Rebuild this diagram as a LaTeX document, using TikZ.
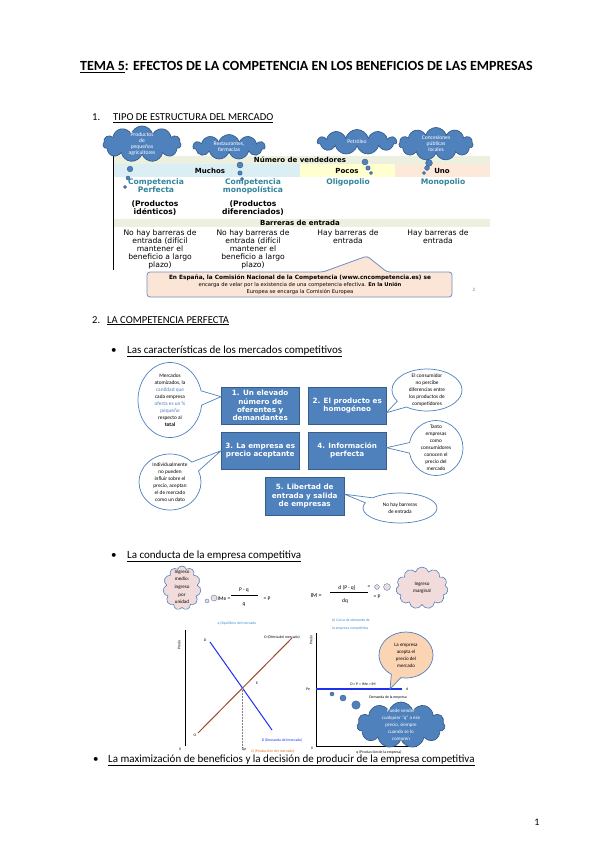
\documentclass[tikz,border=0pt]{standalone}
\usepackage{fontspec}
\setmainfont{Carlito}
\newfontfamily\vfont{DejaVu Sans}
\usetikzlibrary{shapes.symbols,shapes.callouts,shapes.geometric}
\newcommand{\myfs}[2]{\fontsize{#1}{#2}\selectfont}
\definecolor{boxblue}{HTML}{4F81BD}
\definecolor{boxedge}{HTML}{385D8A}
\definecolor{bandgreen}{HTML}{EBF1DE}
\definecolor{rowblue}{HTML}{DAEEF3}
\definecolor{rowyellow}{HTML}{FFFFD0}
\definecolor{rowpeach}{HTML}{FDE9D9}
\definecolor{labelteal}{HTML}{31859C}
\definecolor{calloutfill}{HTML}{FBE5D6}
\definecolor{calloutedge}{HTML}{6F8FC0}
\definecolor{pinkfill}{HTML}{F2DCDB}
\definecolor{peachbub}{HTML}{FBD4B4}
\definecolor{supplybrown}{HTML}{9C4A2F}
\definecolor{demandblue}{HTML}{2030F0}
\definecolor{captionblue}{HTML}{3F8FD0}
\definecolor{qorange}{HTML}{E07020}
\tikzset{
  plain/.style={inner sep=0pt},
  bluebox/.style={draw=boxedge, fill=boxblue, text=white, font=\vfont\bfseries\myfs{7.2}{8.3}, align=center, minimum width=78pt, minimum height=37pt, inner sep=1pt, anchor=north west},
  bluecloud/.style={cloud, cloud puffs=11, cloud ignores aspect, draw=boxedge, fill=boxblue, line width=0.7pt, inner sep=0pt},
  pinkcloud/.style={cloud, cloud puffs=11, cloud ignores aspect, draw=boxblue, fill=pinkfill, line width=0.6pt, inner sep=0pt},
  cloudtext/.style={text=white, font=\myfs{5.6}{6}, align=center, inner sep=0pt},
  bubble/.style={ellipse callout, draw=boxblue, fill=white, line width=0.7pt, inner sep=0pt, callout pointer arc=22},
  bubtext/.style={font=\myfs{5.3}{7}, align=center, inner sep=0pt},
  tdot/.style={fill=boxblue, draw=boxedge, line width=0.4pt},
  tabtxt/.style={font=\vfont\myfs{7.6}{8}, align=center, inner sep=0pt},
  tabhead/.style={font=\vfont\bfseries\myfs{7}{8}, inner sep=0pt},
  tablab/.style={font=\vfont\bfseries\myfs{7.6}{8}, text=labelteal, align=center, inner sep=0pt},
  tiny/.style={font=\myfs{3.8}{4.5}, inner sep=0pt},
  headtxt/.style={font=\myfs{10.6}{13}, anchor=base west, inner sep=0pt},
  subtxt/.style={font=\myfs{11}{13}, anchor=base west, inner sep=0pt}
}
\begin{document}
\begin{tikzpicture}[x=1pt,y=-1pt]
\useasboundingbox (0,0) rectangle (599,848);
\fill[white] (0,0) rectangle (599,848);

% ---------- Title ----------
\node[anchor=base west, font=\bfseries\myfs{14}{16}, inner sep=0pt] (title) at (80,71)
  {\underline{TEMA 5}: EFECTOS DE LA COMPETENCIA EN LOS BENEFICIOS DE LAS EMPRESAS};

% ---------- Section 1 ----------
\node[headtxt] (h1n) at (92,121) {1.};
\node[headtxt] (h1) at (113,121) {\underline{TIPO DE ESTRUCTURA DEL MERCADO}};

\fill[bandgreen] (113,156) rectangle (490,164);
\fill[rowblue] (113,164) rectangle (300,177);
\fill[rowyellow] (300,164) rectangle (395,177);
\fill[rowpeach] (395,164) rectangle (490,177);
\fill[bandgreen] (113,219) rectangle (490,227);
\draw[line width=0.8pt] (113,156) -- (113,270);

% clouds
\node[bluecloud, minimum width=78pt, minimum height=36pt] (c1) at (142,144) {};
\node[cloudtext] (c1t) at (142,144) {Productos\\de\\pequeños\\agricultores};
\node[bluecloud, minimum width=72pt, minimum height=25pt] (c2) at (229,147) {};
\node[cloudtext] (c2t) at (229,147) {Restaurantes,\\farmacias};
\node[bluecloud, minimum width=79pt, minimum height=25pt] (c3) at (357,142) {};
\node[cloudtext] (c3t) at (357,142) {Petróleo};
\node[bluecloud, minimum width=74pt, minimum height=33pt] (c4) at (436,144) {};
\node[cloudtext] (c4t) at (436,144) {Concesiones\\públicas\\locales};

\node[tabhead] (nv) at (300,160) {Número de vendedores};
\node[tabhead] (muchos) at (210,171) {Muchos};
\node[tabhead] (pocos) at (347,171) {Pocos};
\node[tabhead] (uno) at (442,171) {Uno};

% thought dots
\filldraw[tdot] (130,169) circle (2.8);
\filldraw[tdot] (128,178) circle (2);
\filldraw[tdot] (125,187) circle (1.5);
\filldraw[tdot] (240,165) circle (3);
\filldraw[tdot] (240,173) circle (2.2);
\filldraw[tdot] (242,179) circle (1.5);
\filldraw[tdot] (365,162) circle (3);
\filldraw[tdot] (368,168) circle (2.2);
\filldraw[tdot] (371,173) circle (1.6);
\filldraw[tdot] (429,163) circle (3.4);
\filldraw[tdot] (427,168) circle (2.4);
\filldraw[tdot] (424,173) circle (1.7);

\node[tablab] (cp) at (156,186) {Competencia\\Perfecta};
\node[tablab] (cm) at (253,186) {Competencia\\monopolística};
\node[tablab] (ol) at (348,182) {Oligopolio};
\node[tablab] (mo) at (443,182) {Monopolio};
\node[tabtxt, font=\vfont\bfseries\myfs{7.6}{8}] (pi) at (155,208) {(Productos\\idénticos)};
\node[tabtxt, font=\vfont\bfseries\myfs{7.6}{8}] (pd) at (253,208) {(Productos\\diferenciados)};

\node[tabhead] (be) at (300,223) {Barreras de entrada};
\node[tabtxt] (nb1) at (160,249) {No hay barreras de\\entrada (difícil\\mantener el\\beneficio a largo\\plazo)};
\node[tabtxt] (nb2) at (253,249) {No hay barreras de\\entrada (difícil\\mantener el\\beneficio a largo\\plazo)};
\node[tabtxt] (hb1) at (348,237) {Hay barreras de\\entrada};
\node[tabtxt] (hb2) at (438,237) {Hay barreras de\\entrada};

% callout
\coordinate (calltip) at (367,256);
\draw[draw=calloutedge, fill=calloutfill, line width=0.8pt, rounded corners=3pt]
  (147,272) -- (323,272) -- (calltip) -- (387,272) -- (452,272) -- (452,297) -- (147,297) -- cycle;
\node[font=\vfont\bfseries\myfs{5.8}{7}, inner sep=0pt] (cl1) at (300,278) {En España, la Comisión Nacional de la Competencia (www.cncompetencia.es) se};
\node[font=\vfont\myfs{5.2}{6}, inner sep=0pt] (cl2) at (300,285) {encarga de velar por la existencia de una competencia efectiva. \textbf{En la Unión}};
\node[font=\vfont\myfs{5.2}{6}, inner sep=0pt] (cl3) at (300,292) {Europea se encarga la Comisión Europea};
\node[font=\myfs{5}{6}, text=gray, inner sep=0pt] (pg2) at (474,290) {2};

% ---------- Section 2 ----------
\node[headtxt] (h2n) at (92,323) {2.};
\node[headtxt] (h2) at (107,323) {\underline{LA COMPETENCIA PERFECTA}};
\node[subtxt] (bul1) at (111,353) {\textbullet};
\node[subtxt] (s1) at (127,353) {\underline{Las características de los mercados competitivos}};

\node[bluebox] (b1) at (221,387) {1. Un elevado\\número de\\oferentes y\\demandantes};
\node[bluebox] (b2) at (308,387) {2. El producto es\\homogéneo};
\node[bluebox] (b3) at (221,432) {3. La empresa es\\precio aceptante};
\node[bluebox] (b4) at (308,432) {4. Información\\perfecta};
\node[bluebox, minimum width=79pt, minimum height=38pt] (b5) at (265,477) {5. Libertad de\\entrada y salida\\de empresas};

\node[bubble, minimum width=64pt, minimum height=75pt, callout absolute pointer={([yshift=9pt]b1.west)}] (e1) at (170,400) {};
\node[bubtext] (e1t) at (170,400) {Mercados\\atomizados, la\\\textcolor{boxblue}{cantidad que}\\cada empresa\\\textcolor{boxblue}{oferta es un \%}\\\textcolor{boxblue}{pequeño}\\respecto al\\\textbf{total}};
\node[bubble, minimum width=62pt, minimum height=56pt, callout absolute pointer={(b3.west)}] (e2) at (170,482) {};
\node[bubtext] (e2t) at (170,482) {Individualmente\\no pueden\\influir sobre el\\precio, aceptan\\el de mercado\\como un dato};
\node[bubble, minimum width=70pt, minimum height=42pt, callout absolute pointer={([yshift=-7pt]b2.east)}] (e3) at (427,390) {};
\node[bubtext] (e3t) at (427,390) {El consumidor\\no percibe\\diferencias entre\\los productos de\\competidores};
\node[bubble, minimum width=54pt, minimum height=55pt, callout absolute pointer={([yshift=3pt]b4.east)}] (e4) at (436,448) {};
\node[bubtext] (e4t) at (436,448) {Tanto\\empresas\\como\\consumidores\\conocen el\\precio del\\mercado};
\node[bubble, minimum width=74pt, minimum height=30pt, callout absolute pointer={([yshift=2pt]b5.east)}] (e5) at (400,508) {};
\node[bubtext] (e5t) at (400,508) {No hay barreras\\de entrada};

% ---------- Conducta ----------
\node[subtxt] (bul2) at (111,558) {\textbullet};
\node[subtxt] (s2) at (127,558) {\underline{La conducta de la empresa competitiva}};

\node[pinkcloud, minimum width=38pt, minimum height=44pt] (pc1) at (182,588) {};
\node[bubtext, font=\myfs{5}{7.7}] (pc1t) at (182,587) {Ingreso\\medio:\\ingreso\\por\\unidad};
\filldraw[draw=boxblue, fill=pinkfill, line width=0.4pt] (207,601) circle (2);
\filldraw[draw=boxblue, fill=pinkfill, line width=0.4pt] (214,598) circle (3);

\node[font=\myfs{5.5}{6}, inner sep=0pt] (ime) at (224,599) {IMe =};
\node[font=\myfs{5.5}{6}, inner sep=0pt] (imenum) at (244,590) {P · q};
\draw[line width=0.4pt] (231,595) -- (258,595);
\node[font=\myfs{5.5}{6}, inner sep=0pt] (imeden) at (244,605) {q};
\node[font=\myfs{5.5}{6}, inner sep=0pt] (imep) at (267,599) {= P};

\node[font=\myfs{6}{7}, inner sep=0pt] (im) at (316,596) {IM =};
\node[font=\myfs{5.5}{6}, inner sep=0pt] (imnum) at (347,588) {d (P · q)};
\draw[line width=0.4pt] (330,592) -- (368,592);
\node[font=\myfs{5.5}{6}, inner sep=0pt] (imden) at (345,601) {dq};
\node[font=\myfs{5.5}{6}, inner sep=0pt] (imp) at (377,597) {= P};
\node[font=\myfs{5.5}{6}, inner sep=0pt] (imeq) at (369,587) {=};
\filldraw[draw=boxblue, fill=pinkfill, line width=0.4pt] (377,587) circle (2.4);
\filldraw[draw=boxblue, fill=pinkfill, line width=0.4pt] (387,587) circle (3.4);
\node[pinkcloud, minimum width=52pt, minimum height=42pt] (pc2) at (422,588) {};
\node[bubtext, font=\myfs{5}{7}] (pc2t) at (422,588) {Ingreso\\marginal};

% captions
\node[tiny, text=captionblue] (capa) at (237,623) {a) Equilibrio del mercado};
\node[tiny, text=captionblue, anchor=west, font=\itshape\myfs{3.8}{4.5}] (capb) at (332,620) {b) Curva de demanda de};
\node[tiny, text=captionblue, anchor=west] (capb2) at (332,628) {la empresa competitiva};

% graph a
\coordinate (ayt) at (185,630);
\coordinate (ayb) at (185,746);
\draw[line width=0.9pt] (ayt) -- (ayb);
\node[tiny, rotate=90] (apr) at (179,645) {Precio};
\coordinate (s0) at (198,733);
\coordinate (s1) at (292,638);
\coordinate (d0) at (210,642);
\coordinate (d1) at (272,730);
\draw[supplybrown, line width=1pt] (s0) -- (s1);
\draw[demandblue, line width=1pt] (d0) -- (d1);
\coordinate (E) at (242.5,688);
\coordinate (Eb) at (242.5,748);
\draw[densely dotted, line width=0.5pt, gray] (E) -- (Eb);
\node[tiny] (lD) at (205,640) {D};
\node[tiny] (lO) at (282,637) {O (Oferta del mercado)};
\node[tiny] (lE) at (257,683) {E};
\node[tiny] (lO2) at (195,735) {O};
\node[tiny, text=demandblue] (lDm) at (282,740) {D (Demanda del mercado)};
\node[tiny, text=qorange] (lQ) at (273,751) {Q (Producción del mercado)};
\node[tiny] (lQe) at (244,750) {Qe};
\node[tiny] (l0a) at (180,749) {0};

% graph b
\coordinate (byt) at (316,633);
\coordinate (bo) at (316,746);
\coordinate (bxr) at (417,746);
\draw[line width=0.9pt] (byt) -- (bo) -- (bxr);
\node[tiny, rotate=90] (bpr) at (311,640) {Precio};
\coordinate (dl0) at (316,689);
\coordinate (dl1) at (402,689);
\coordinate (dline) at (390,689);
\draw[demandblue, line width=1.1pt] (dl0) -- (dl1);
\node[tiny] (ld) at (407,689) {d};
\node[tiny] (lPe) at (308,689) {Pe};
\node[tiny] (lDP) at (363,684) {D = P = IMe = IM};

\node[bubble, fill=peachbub, minimum width=54pt, minimum height=46pt, callout absolute pointer={(dline)}] (eb) at (406,655) {};
\node[bubtext, font=\myfs{5}{7}] (ebt) at (406,655) {La empresa\\acepta el\\precio del\\mercado};

\filldraw[tdot] (332,694) circle (2);
\filldraw[tdot] (343,698) circle (3);
\filldraw[tdot] (356,705) circle (4.2);
\node[bluecloud, minimum width=88pt, minimum height=46pt] (bc) at (401,725) {};
\node[cloudtext, font=\myfs{5}{7}] (bct) at (401,725) {Puede vender\\cualquier “q” a ese\\precio, siempre\\cuando se lo\\compren};
\node[tiny] (lDe) at (388,697) {Demanda de la empresa};
\node[tiny] (lq) at (379,752) {q (Producción de la empresa)};
\node[tiny] (l0b) at (312,748) {0};

% ---------- bottom ----------
\node[subtxt] (bul3) at (93,762) {\textbullet};
\node[subtxt] (s3) at (108,762) {\underline{La maximización de beneficios y la decisión de producir de la empresa competitiva}};

\node[font=\myfs{10}{12}, inner sep=0pt] (pnum) at (537,822) {1};
\end{tikzpicture}
\end{document}
